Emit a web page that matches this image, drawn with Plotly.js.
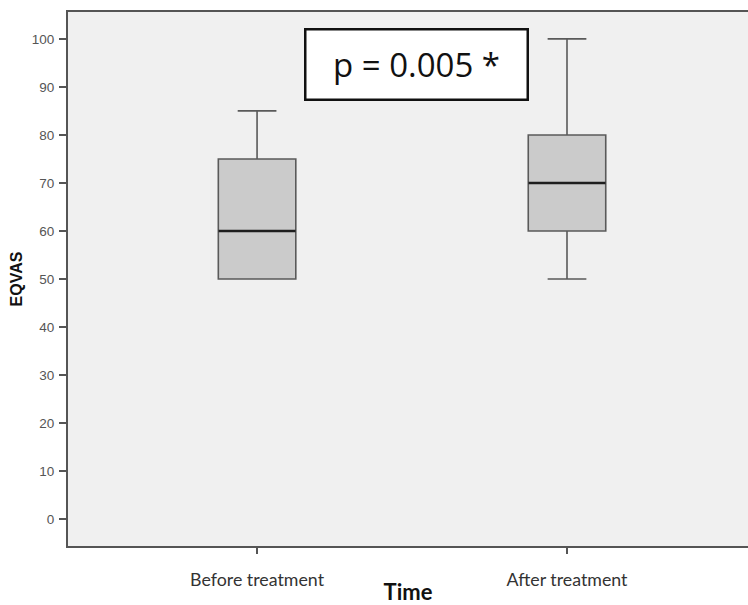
<!DOCTYPE html>
<html>
<head>
<meta charset="utf-8">
<script src="https://cdn.plot.ly/plotly-3.0.1.min.js"></script>
<style>html,body{margin:0;padding:0;background:#fff;}#chart{width:748px;height:605px;}</style>
</head>
<body>
<div id="chart"></div>
<script>
const categories = ['Before treatment', 'After treatment'];
const lowerWhisker = [50, 50];
const q1Values = [50, 60];
const medianValues = [60, 70];
const q3Values = [75, 80];
const upperWhisker = [85, 100];
const yTickValues = [0, 10, 20, 30, 40, 50, 60, 70, 80, 90, 100];
const pValueLabel = 'p = 0.005 *';

const boxTrace = {
  type: 'box',
  x: categories,
  q1: q1Values,
  median: medianValues,
  q3: q3Values,
  lowerfence: lowerWhisker,
  upperfence: upperWhisker,
  width: 0.25,
  whiskerwidth: 0.5,
  fillcolor: '#cbcbcb',
  line: {color: '#5a5a5a', width: 1.6},
  hoverinfo: 'none',
  showlegend: false
};

const medianTrace = {
  type: 'scatter',
  mode: 'markers',
  x: categories,
  y: medianValues,
  marker: {symbol: 'line-ew', size: 55, line: {color: '#1e1e1e', width: 2.6}},
  hoverinfo: 'none',
  showlegend: false
};

const layout = {
  width: 748,
  height: 605,
  margin: {l: 68, r: 0, t: 12, b: 59},
  paper_bgcolor: '#ffffff',
  plot_bgcolor: '#f0f0f0',
  showlegend: false,
  xaxis: {
    type: 'category',
    range: [-0.61, 1.584],
    showline: true,
    mirror: true,
    linecolor: '#555555',
    linewidth: 2,
    ticks: 'outside',
    ticklen: 6,
    tickwidth: 1.5,
    tickcolor: '#555555',
    showgrid: false,
    zeroline: false,
    ticklabelstandoff: 11,
    tickfont: {family: 'Lato, "Open Sans", sans-serif', size: 17.8, color: '#333333'},
    title: {text: '<b>Time</b>', font: {family: 'Lato, "Open Sans", sans-serif', size: 22, color: '#111111'}, standoff: 0}
  },
  yaxis: {
    range: [-5.6, 105.6],
    tickmode: 'array',
    tickvals: yTickValues,
    ticktext: yTickValues.map(String),
    showline: true,
    linecolor: '#555555',
    linewidth: 2,
    ticks: 'outside',
    ticklen: 7,
    tickwidth: 1.5,
    tickcolor: '#555555',
    showgrid: false,
    zeroline: false,
    ticklabelstandoff: 2,
    tickfont: {family: '"Liberation Sans", Arial, sans-serif', size: 13.5, color: '#555555'},
    title: {text: '<b>EQVAS</b>', font: {family: '"Liberation Sans", Arial, sans-serif', size: 16, color: '#111111'}, standoff: 5}
  },
  annotations: [{
    xref: 'paper', yref: 'paper',
    x: 0.512, y: 0.901,
    xanchor: 'center', yanchor: 'middle',
    text: pValueLabel,
    showarrow: false,
    font: {family: '"Open Sans", sans-serif', size: 33, color: '#111111'},
    bgcolor: '#ffffff',
    bordercolor: '#111111',
    borderwidth: 2.5,
    borderpad: 0,
    width: 220,
    height: 68
  }]
};

Plotly.newPlot('chart', [boxTrace, medianTrace], layout, {displayModeBar: false, staticPlot: true});
</script>
</body>
</html>
